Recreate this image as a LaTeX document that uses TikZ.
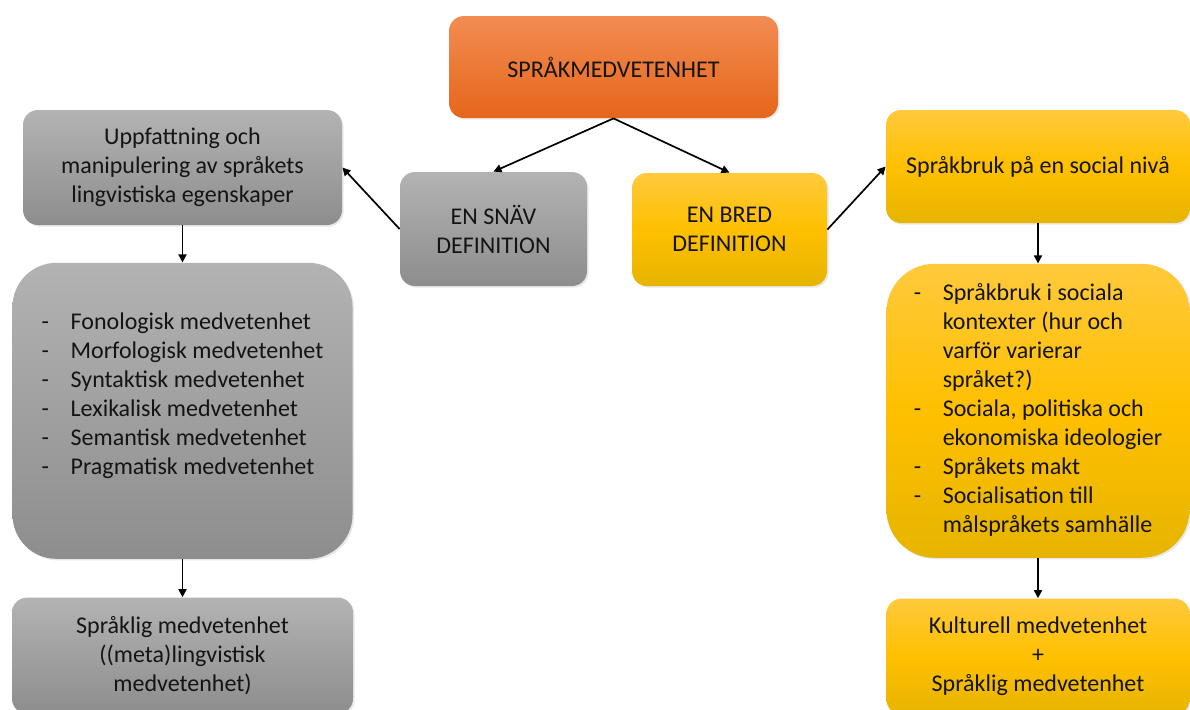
\documentclass[tikz,border=0pt]{standalone}
\usepackage{fontspec}
\setmainfont{Carlito}
\usepackage{xcolor}
\usepackage{tikz}
\usetikzlibrary{arrows.meta, positioning, shadows}
\definecolor{medorange}{HTML}{F28C52}
\definecolor{medorangedark}{HTML}{E5661B}
\definecolor{medgray}{HTML}{B3B3B3}
\definecolor{medgraydark}{HTML}{8D8D8D}
\definecolor{medyellow}{HTML}{FFC93C}
\definecolor{medyellowmid}{HTML}{FFC000}
\definecolor{medyellowdark}{HTML}{E6B400}
\definecolor{medtext}{HTML}{141414}
\tikzset{
  mbox/.style={rounded corners=7.5pt, align=center, inner sep=4pt, text=medtext, font=\fontsize{12}{14.5}\selectfont, drop shadow={opacity=0.18, shadow xshift=0.8pt, shadow yshift=-0.8pt}},
  mgray/.style={mbox, top color=medgray, bottom color=medgraydark},
  morange/.style={mbox, top color=medorange, bottom color=medorangedark},
  myellow/.style={mbox, top color=medyellow, bottom color=medyellowdark, middle color=medyellowmid},
  mflow/.style={-{Triangle[length=4pt, width=4pt]}, line width=0.85pt, black},
}

\begin{document}
\begin{tikzpicture}[x=0.5pt, y=-0.5pt]
    \useasboundingbox (0,0) rectangle (1190,709);
    \node[morange, minimum width=164.5pt, minimum height=51pt] (top) at (613.5,67) {SPRÅKMEDVETENHET};
    \node[mgray, minimum width=93.5pt, minimum height=57pt] (snav) at (493.5,229) {EN SNÄV\\DEFINITION};
    \node[myellow, minimum width=97.5pt, minimum height=56.5pt] (bred) at (729.5,229.5) {EN BRED\\DEFINITION};
    \node[mgray, minimum width=159.5pt, minimum height=57.5pt] (uppf) at (182.5,167.5) {Uppfattning och\\manipulering av språkets\\lingvistiska egenskaper};
    \node[myellow, minimum width=152pt, minimum height=56.5pt] (social) at (1038,166.5) {Språkbruk på en social nivå};
    \node[mgray, rounded corners=22pt, minimum width=170pt, minimum height=148pt, below=18.5pt of uppf] (medv) {\begin{tabular}{@{}p{14.5pt}@{}l@{}}
      -&Fonologisk medvetenhet\\
      -&Morfologisk medvetenhet\\
      -&Syntaktisk medvetenhet\\
      -&Lexikalisk medvetenhet\\
      -&Semantisk medvetenhet\\
      -&Pragmatisk medvetenhet\\
      &
    \end{tabular}};
    \node[mgray, minimum width=170.5pt, minimum height=58pt, below=19pt of medv] (sprakl) {Språklig medvetenhet\\((meta)lingvistisk\\medvetenhet)};
    \node[myellow, rounded corners=24pt, minimum width=151.5pt, minimum height=147pt, below=20pt of social] (kontext) {\begin{tabular}{@{}p{14.5pt}@{}l@{}}
      -&Språkbruk i sociala\\
      &kontexter (hur och\\
      &varför varierar\\
      &språket?)\\
      -&Sociala, politiska och\\
      &ekonomiska ideologier\\
      -&Språkets makt\\
      -&Socialisation till\\
      &målspråkets samhälle
    \end{tabular}};
    \node[myellow, minimum width=151.5pt, minimum height=58pt, below=20pt of kontext] (kultur) {Kulturell medvetenhet\\+\\Språklig medvetenhet};
    \draw[mflow] (top.south) -- (snav.north);
    \draw[mflow] (top.south) -- (bred.north);
    \draw[mflow] (snav.west) -- (uppf.east);
    \draw[mflow] (bred.east) -- (social.west);
    \draw[mflow] (uppf.south) -- (medv.north);
    \draw[mflow] (medv.south) -- (sprakl.north);
    \draw[mflow] (social.south) -- (kontext.north);
    \draw[mflow] (kontext.south) -- (kultur.north);
  \end{tikzpicture}
\end{document}
